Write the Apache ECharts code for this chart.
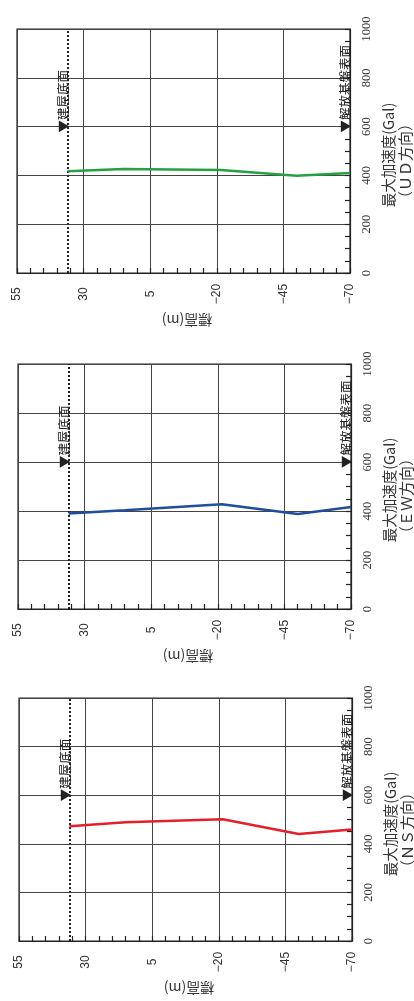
<!DOCTYPE html>
<html><head><meta charset="utf-8">
<script src="https://cdn.jsdelivr.net/npm/echarts@6/dist/echarts.min.js"></script>
<style>html,body{margin:0;padding:0;background:#fff;}#c{width:414px;height:1001px;}</style>
</head><body><div id="c"></div>
<script>
// ---- data ----
const elevTicks = [55, 30, 5, -20, -45, -70];
const accTicks = [0, 200, 400, 600, 800, 1000];
const buildingBase = 36;      // 建屋底面 elevation (m)
const bedrockSurface = -70;   // 解放基盤表面 elevation (m)
const markerAcc = 600;        // acceleration where the ▼ labels start
const udElev = [36, 15, -21.5, -50, -70];
const udAcc  = [417, 426, 422, 399, 410];
const ewElev = [36, 15, -21.5, -50, -70];
const ewAcc  = [390, 403, 428, 388, 416];
const nsElev = [36, 15, -21.5, -50, -70];
const nsAcc  = [472, 489, 501, 440, 459];
const directions = ['（ＵＤ方向）', '（ＥＷ方向）', '（ＮＳ方向）'];
const accTitle = '最大加速度(Gal)';
const elevTitle = '標高(m)';
const baseLabel = '▼建屋底面';
const bedrockLabel = '▼解放基盤表面';

// ---- layout / style ----
const panels = [
  {left: 17, top: 29, width: 333, height: 244},
  {left: 18, top: 364, width: 333, height: 245},
  {left: 19, top: 698, width: 333, height: 243}
];
const colors = ['#27a044', '#1f4f9a', '#e4202a'];
const seriesData = [
  udElev.map((e, i) => [e, udAcc[i]]),
  ewElev.map((e, i) => [e, ewAcc[i]]),
  nsElev.map((e, i) => [e, nsAcc[i]])
];
const annElev = [buildingBase, bedrockSurface];
const annText = [baseLabel, bedrockLabel];
const elevMin = elevTicks[elevTicks.length - 1], elevMax = elevTicks[0];
const accMin = accTicks[0], accMax = accTicks[accTicks.length - 1];

const grid = [], xAxis = [], yAxis = [], series = [], graphic = [];
const cjk = '"Noto Sans CJK JP"';
const tickStyle = {color: '#222', width: 1.2};

panels.forEach((p, i) => {
  grid.push({left: p.left, top: p.top, width: p.width, height: p.height,
    show: true, borderColor: '#222', borderWidth: 1.2, backgroundColor: 'transparent'});
  xAxis.push({type: 'value', gridIndex: i, min: elevMin, max: elevMax, interval: 25, inverse: true,
    position: 'bottom',
    axisLine: {show: true, onZero: false, lineStyle: {color: '#222', width: 1.2}},
    axisTick: {show: true, inside: true, length: 5, lineStyle: tickStyle},
    minorTick: {show: true, splitNumber: 5, length: 5, lineStyle: tickStyle},
    axisLabel: {rotate: 90, align: 'center', verticalAlign: 'middle', margin: 21,
      fontFamily: 'Liberation Sans', fontSize: 12, color: '#333',
      formatter: v => String(v).replace('-', '\u2212')},
    splitLine: {show: true, lineStyle: {color: '#444', width: 1}}});
  yAxis.push({type: 'value', gridIndex: i, min: accMin, max: accMax, interval: 200,
    position: 'right',
    axisLine: {show: true, onZero: false, lineStyle: {color: '#222', width: 1.2}},
    axisTick: {show: true, inside: true, length: 5, lineStyle: tickStyle},
    minorTick: {show: true, splitNumber: 4, length: 5, lineStyle: tickStyle},
    axisLabel: {rotate: 90, align: 'center', verticalAlign: 'middle', margin: 17,
      fontFamily: 'Liberation Serif', fontSize: 12.5, color: '#333',
      formatter: v => String(v)},
    splitLine: {show: true, lineStyle: {color: '#444', width: 1}}});

  series.push({type: 'line', xAxisIndex: i, yAxisIndex: i, data: seriesData[i],
    symbol: 'none', z: 5, lineStyle: {color: colors[i], width: 2.5},
    markLine: {silent: true, symbol: 'none', label: {show: false},
      lineStyle: {type: 'dotted', color: '#222', width: 2},
      data: [{xAxis: buildingBase}]}});

  series.push({type: 'custom', xAxisIndex: i, yAxisIndex: i, z: 6,
    data: annElev.map(e => [e, markerAcc]),
    renderItem: (params, api) => {
      const pt = api.coord([api.value(0), api.value(1)]);
      return {type: 'text', x: pt[0] + 2, y: pt[1] + 6, rotation: Math.PI / 2,
        style: {text: annText[params.dataIndex], align: 'left', verticalAlign: 'bottom',
          textAlign: 'left', textVerticalAlign: 'bottom',
          font: '12.5px ' + cjk, fill: '#222'}};
    }});

  const right = p.left + p.width, bottom = p.top + p.height;
  graphic.push({type: 'text', x: p.left + 170, y: bottom + 47, rotation: Math.PI,
    style: {text: elevTitle, align: 'center', verticalAlign: 'middle', textAlign: 'center',
      textVerticalAlign: 'middle', font: '14px ' + cjk, fill: '#333'}});
  graphic.push({type: 'text', x: right + 38, y: p.top + 126, rotation: Math.PI / 2,
    style: {text: accTitle, align: 'center', verticalAlign: 'middle', textAlign: 'center',
      textVerticalAlign: 'middle', font: '14.5px ' + cjk, fill: '#333'}});
  graphic.push({type: 'text', x: right + 55, y: p.top + 132, rotation: Math.PI / 2,
    style: {text: directions[i], align: 'center', verticalAlign: 'middle', textAlign: 'center',
      textVerticalAlign: 'middle', font: '15px ' + cjk, fill: '#333'}});
});

const chart = echarts.init(document.getElementById('c'), null, {renderer: 'canvas'});
chart.setOption({animation: false, backgroundColor: '#fff', grid, xAxis, yAxis, series, graphic});
</script>
</body></html>
